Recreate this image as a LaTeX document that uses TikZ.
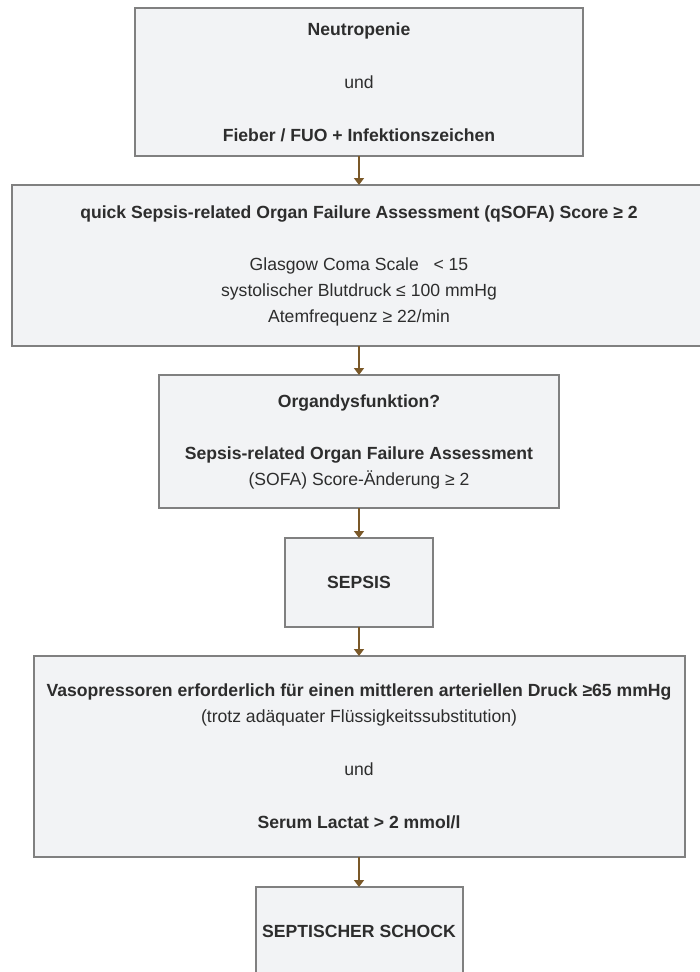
\documentclass[tikz,border=0pt]{standalone}
\usepackage{fontspec}
\setmainfont{Liberation Sans}
\usetikzlibrary{arrows.meta}
\definecolor{boxfill}{RGB}{242,243,245}
\definecolor{boxline}{RGB}{128,128,128}
\definecolor{arrowbrown}{RGB}{122,88,40}
\definecolor{textgray}{RGB}{45,45,45}

\begin{document}
\begin{tikzpicture}[x = 1pt, y = 1pt, font = \fontsize{17.6}{26}\selectfont]
	\tikzstyle{boxStyle} = [draw = boxline, line width = 2pt, fill = boxfill, text = textgray, align = center, inner sep = 0pt, outer sep = 0pt]
	\tikzstyle{arrowStyle} = [draw = arrowbrown, line width = 1.5pt, -{Triangle[width = 10pt, length = 7pt]}]
	\useasboundingbox (0, 0) rectangle (699, -972);
	\node[boxStyle, minimum width = 448, minimum height = 148] (b0) at (359, -82) {\bfseries Neutropenie\\[27pt] und\\[27pt] \bfseries Fieber / FUO + Infektionszeichen};
	\node[boxStyle, minimum width = 694, minimum height = 161] (b1) at (359, -265.5) {\bfseries quick Sepsis-related Organ Failure Assessment (qSOFA) Score ≥ 2\\[26pt] Glasgow Coma Scale~~~< 15\\ systolischer Blutdruck ≤ 100 mmHg\\ Atemfrequenz ≥ 22/min};
	\node[boxStyle, minimum width = 400, minimum height = 133] (b2) at (359, -441.5) {\bfseries Organdysfunktion?\\[26pt] \bfseries Sepsis-related Organ Failure Assessment\\ (SOFA) Score-Änderung ≥ 2};
	\node[boxStyle, minimum width = 148, minimum height = 89] (b3) at (359, -582.5) {\bfseries SEPSIS};
	\node[boxStyle, minimum width = 651, minimum height = 201] (b4) at (359, -756.5) {\bfseries Vasopressoren erforderlich für einen mittleren arteriellen Druck ≥65 mmHg\\ (trotz adäquater Flüssigkeitssubstitution)\\[27pt] und\\[27pt] \bfseries Serum Lactat > 2 mmol/l};
	\node[boxStyle, minimum width = 207, minimum height = 88] (b5) at (359, -931) {\bfseries SEPTISCHER SCHOCK};
	\draw[arrowStyle] (b0.south) -- (b1.north);
	\draw[arrowStyle] (b1.south) -- (b2.north);
	\draw[arrowStyle] (b2.south) -- (b3.north);
	\draw[arrowStyle] (b3.south) -- (b4.north);
	\draw[arrowStyle] (b4.south) -- (b5.north);
\end{tikzpicture}
\end{document}
